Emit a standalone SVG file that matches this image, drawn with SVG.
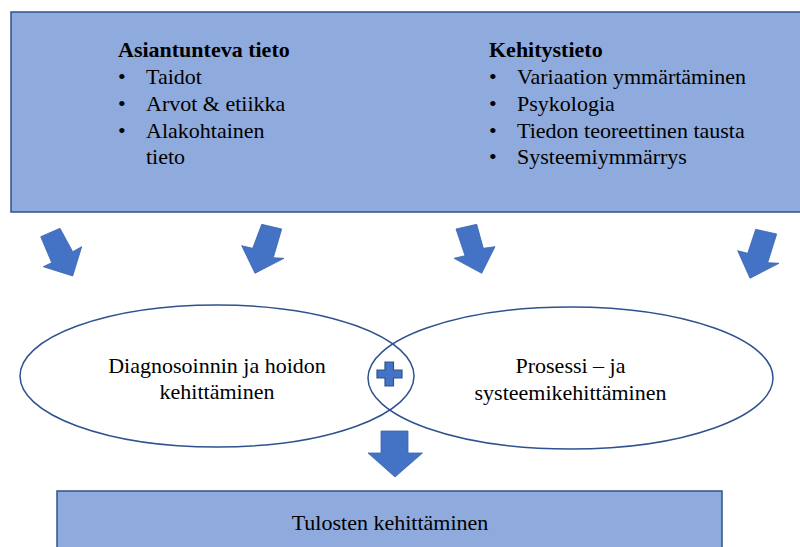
<svg xmlns="http://www.w3.org/2000/svg" width="800" height="547" viewBox="0 0 800 547">
<style>
.box{fill:#8FAADC;stroke:#2F528F;stroke-width:1.5}
.ell{fill:#FFFFFF;stroke:#2F528F;stroke-width:1.5}
.arr{fill:#4472C4;stroke:#3A64AE;stroke-width:0.8}
.b{font-weight:bold}
.c{text-anchor:middle}
</style>
<rect width="800" height="547" fill="#FFFFFF"/>
<g font-family="Liberation Serif, DejaVu Serif, serif" font-size="22" fill="#000">
<g id="top-box">
<rect class="box" x="11" y="12" width="800" height="200"/>
<text class="b" x="118" y="57">Asiantunteva tieto</text>
<text x="118" y="84">•</text><text x="146" y="84">Taidot</text>
<text x="118" y="111">•</text><text x="146" y="111">Arvot &amp; etiikka</text>
<text x="118" y="138">•</text><text x="146" y="138">Alakohtainen</text>
<text x="146" y="164">tieto</text>
<text class="b" x="489" y="57">Kehitystieto</text>
<text x="489" y="84">•</text><text x="517" y="84">Variaation ymmärtäminen</text>
<text x="489" y="111">•</text><text x="517" y="111">Psykologia</text>
<text x="489" y="138">•</text><text x="517" y="138">Tiedon teoreettinen tausta</text>
<text x="489" y="164">•</text><text x="517" y="164">Systeemiymmärrys</text>
</g>
<g id="connectors">
<polygon class="arr" points="40.7,236.7 60,228.3 72.7,251.7 81.7,246.7 72.7,276 43.3,266.7 51.7,262.7"/>
<polygon class="arr" points="261.7,224.3 281.7,229 273.3,257.7 284,258.3 255,273.3 241.7,245.7 252.7,248.3"/>
<polygon class="arr" points="456,229 476.7,224.3 483.3,248.3 495,246.7 481.7,273.3 454,258.3 465,255.7"/>
<polygon class="arr" points="755.7,229.3 776.7,234 767.7,262.7 779,263.3 750,278.3 737.7,250.7 747.7,253.3"/>
<polygon class="arr" points="381,431 408,431 408,453 422.5,453 395,477 368,453 381,453"/>
</g>
<g id="left-ellipse">
<ellipse class="ell" cx="217" cy="376" rx="197" ry="71"/>
</g>
<g id="right-ellipse">
<ellipse class="ell" cx="570.5" cy="378" rx="202.5" ry="71" fill-opacity="0"/>
</g>
<g id="left-text">
<text class="c" x="217" y="373">Diagnosoinnin ja hoidon</text>
<text class="c" x="217" y="399">kehittäminen</text>
</g>
<g id="right-text">
<text class="c" x="570.5" y="373">Prosessi – ja</text>
<text class="c" x="570.5" y="400">systeemikehittäminen</text>
</g>
<g id="plus">
<polygon class="arr" points="385,362 393.5,362 393.5,370 402,370 402,378 393.5,378 393.5,386 385,386 385,378 377,378 377,370 385,370" style="stroke:#2F528F;stroke-width:1.2"/>
</g>
<g id="bottom-box">
<rect class="box" x="57" y="491" width="665" height="70"/>
<text class="c" x="390" y="530">Tulosten kehittäminen</text>
</g>
</g>
</svg>
